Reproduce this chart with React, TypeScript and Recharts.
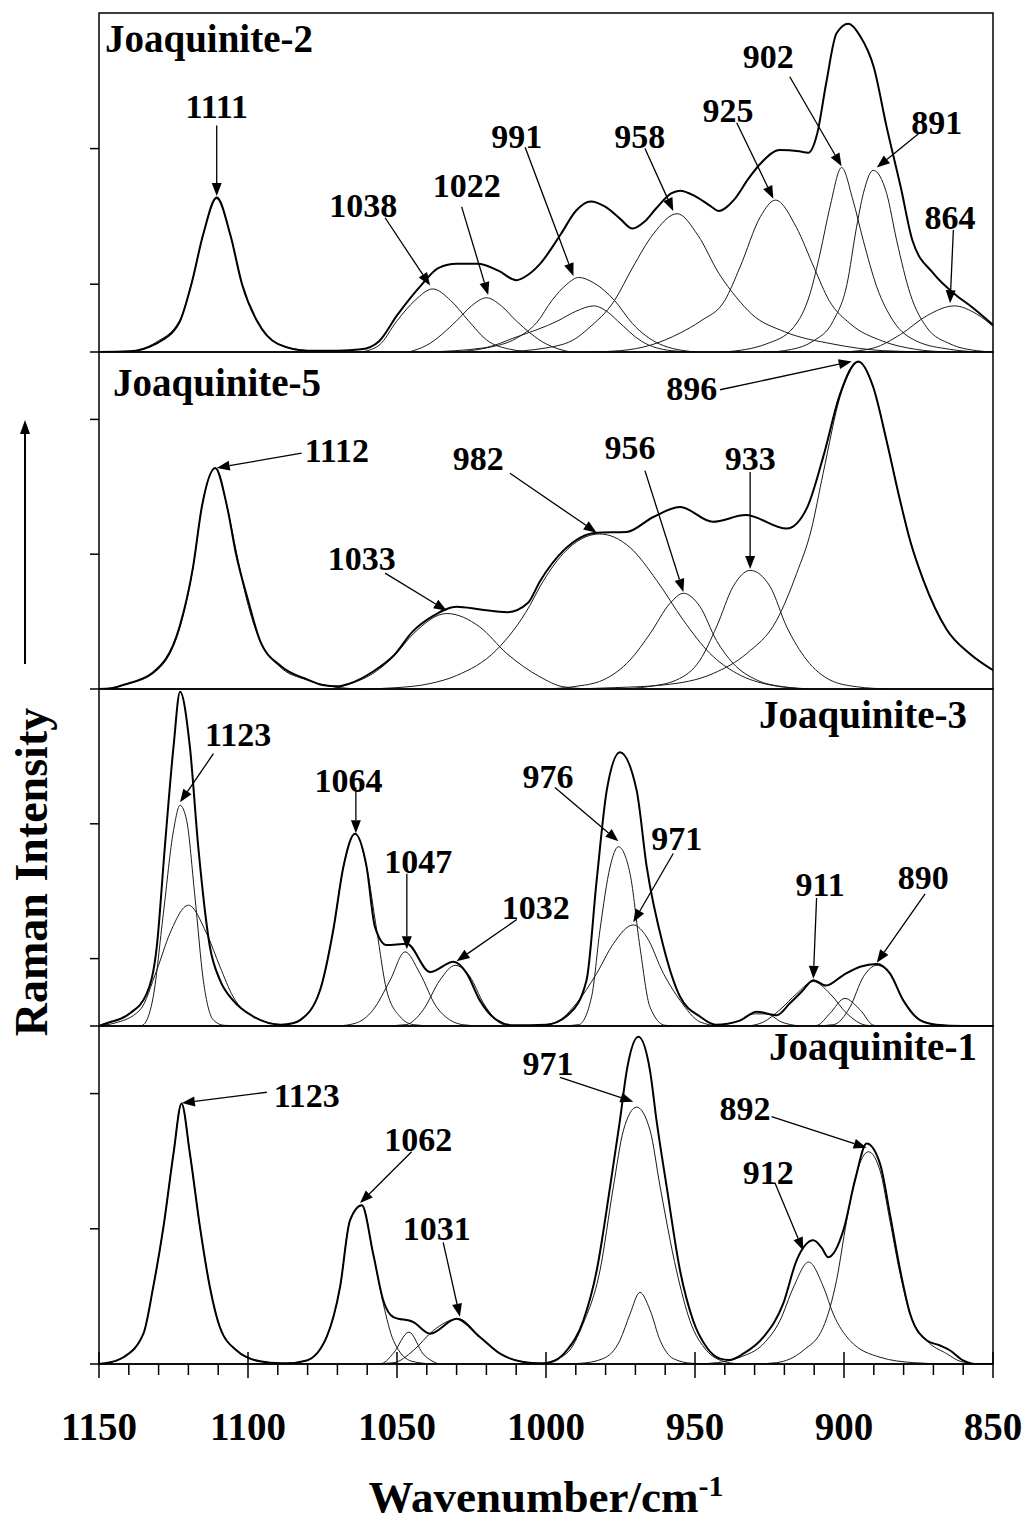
import React from 'react';
import { LineChart, Line, XAxis, YAxis, ReferenceArea, ReferenceLine, ReferenceDot } from 'recharts';

type P = [number, number];
// [text, labelW, labelV, arrowStartW, arrowStartV, tipW, tipV]
type Note = [string, number, number, number, number, number, number];

const FONT = "'Liberation Serif', 'Times New Roman', serif";

// ---- Joaquinite-2 (top panel) : [wavenumber, intensity]
const j2Env: P[] = [[1150,0],[1140,0.5],[1131,6],[1123,22],[1119,50],[1115,87],[1110.5,114],[1106,87],[1102,50],[1097,23],[1090,6],[1080,1],[1070,1],[1062,2],[1056,8],[1050,27],[1042,49],[1036,62],[1030,65],[1023,65],[1016,60],[1010,53],[1006,57],[1002,65],[995,87],[990,104],[985,111],[980,107],[975,98],[971,91],[967,96],[963,106],[958,117],[955,119],[950,115],[945,108],[942,104],[937,112],[932,128],[928,139],[921.5,149],[915,148],[912,147],[909,161],[906,198],[902.5,235],[898.5,242],[894.6,233],[890,210],[885.7,166],[881,122],[877,82],[870,58],[863,43],[857,33],[850,20]];
const j2c1111: P[] = [[1139,0],[1131,7],[1123,23],[1119,50],[1115,87],[1110.5,113],[1106,87],[1102,50],[1097,23],[1090,6],[1080,1],[1072,0]];
const j2c1038: P[] = [[1062,0],[1056,5],[1050,23],[1044,38],[1038,46.5],[1032,38],[1026,23],[1020,9],[1012,2],[1004,0]];
const j2c1022: P[] = [[1046,0],[1040,5],[1030,23],[1025,34],[1020,40],[1015,34],[1010,23],[1000,6],[992,0]];
const j2c991: P[] = [[1030,0],[1020,3],[1010,10],[1003,22],[998,38],[993,50],[989,55],[984,51],[977,38],[971,21],[962,6],[950,0]];
const j2c982: P[] = [[1040,0],[1021,3],[1010,11],[996,23],[990,30],[984,34],[979,29],[976,23],[968,8],[958,1],[950,0]];
const j2c958: P[] = [[1015,0],[1000,3],[990,10],[986,17],[977,38],[971,62],[964,87],[956,102],[949,86],[942,58],[936,40],[931,28],[920,15],[904,6],[887,1],[870,0]];
const j2c925: P[] = [[985,0],[975,1],[965,5],[955,14],[948,23],[940,38],[935,62],[928,100],[923,112],[916,92],[910,62],[905,38],[898,21],[887,8],[876,2],[865,0]];
const j2c902: P[] = [[940,0],[926,6],[917,18],[911.4,43],[908,73],[904.7,107],[900.8,136],[897,112],[893.5,82],[889,48],[883.5,23],[875.6,8],[864.5,2],[855,0]];
const j2c891: P[] = [[925,0],[920,1],[910.4,8],[903.6,23],[899,50],[895.8,92],[893.5,117],[890.2,134],[885.7,117],[882.3,82],[877.8,43],[872.2,18],[864.4,6],[855.5,1],[850,0]];
const j2c864: P[] = [[900,0],[890,3],[881,13],[872,27],[863,34],[855.5,28],[850,19]];
const j2Notes: Note[] = [
  ['1111', 1110.5, 181, 1110.5, 167, 1110.5, 115],
  ['1038', 1061.3, 108, 1054, 99, 1038.9, 49],
  ['1022', 1026.6, 123, 1028.3, 107, 1019.4, 42],
  ['991', 1009.8, 159, 1007, 151, 990.8, 56],
  ['958', 968.5, 159, 966.8, 150, 957.3, 104],
  ['925', 938.9, 178, 936, 169, 923.7, 113],
  ['902', 925.4, 218, 918.2, 203, 900.8, 137],
  ['891', 868.9, 169, 875, 161, 889, 136],
  ['864', 864.4, 99, 863.3, 90, 864.4, 36],
];

// ---- Joaquinite-5
const j5Env: P[] = [[1150,0],[1146,0.5],[1142,3],[1132,12],[1123,46],[1118.4,91],[1115.5,135],[1111,164],[1107,135],[1104,100],[1100,66],[1096,36],[1089,17],[1080,7],[1075,3],[1070,2],[1066,4],[1058,13],[1051,25],[1045,42],[1038,54],[1030,61],[1022,59],[1013,57],[1006,64],[1002,80],[994,103],[983,116],[973,116.5],[964,127.6],[955,135],[944,124],[933,129],[919.2,119],[912.5,134],[907,172],[901.3,219],[895.2,243],[890.2,224],[885.7,184],[881.2,140],[877.8,110],[873.4,81],[865.5,44],[857.7,26],[850,14]];
const j5c1112: P[] = [[1150,0],[1146,0.5],[1141.8,3],[1131.8,11.6],[1122.8,46],[1118.4,90.6],[1115.5,135],[1111,163.5],[1107,135],[1103.8,100.5],[1100.4,66],[1096,36],[1089.3,16.5],[1080.3,6.7],[1071.4,1.7],[1062,0]];
const j5c1033: P[] = [[1072,0],[1066.9,3],[1058,11.6],[1051.2,24],[1044.5,41],[1033.3,56],[1022.2,46],[1013.2,26.4],[1002,9],[994.3,1.7],[985,0]];
const j5c982: P[] = [[1062,0],[1050,1],[1039,4],[1030,10],[1016.6,29],[1005.4,62],[1002,76],[994.2,100.5],[982,115],[971.8,105],[962.9,80.7],[953.9,51],[945,26.4],[936,11.6],[924.8,3],[912,0]];
const j5c956: P[] = [[1000,0],[990.8,1.7],[980.8,6.7],[971.8,21.5],[965.1,41],[958.4,63.5],[953.9,71],[948.3,61],[942.8,36],[937.2,19],[929.3,6.7],[920.4,1.7],[910,0]];
const j5c933: P[] = [[975,0],[966,1.7],[956.2,6.7],[948.3,21.5],[942.8,46],[937.2,76],[931.5,88],[924.8,76],[919.2,46],[912.5,21.5],[904.7,6.7],[895.8,1.7],[885,0]];
const j5c896: P[] = [[990,0],[977,1],[960.6,3],[943.8,11.6],[932.6,26.4],[922.6,51],[915.9,85.7],[911,118],[907,160],[901.3,217],[895.2,242.5],[890.2,224],[885.7,184.4],[881.2,140],[877.8,110],[873.4,80.7],[865.5,43.7],[857.7,26.4],[850,14]];
const j5Notes: Note[] = [
  ['1112', 1070.2, 177, 1082, 175, 1110.5, 164],
  ['982', 1022.7, 171, 1012.1, 160, 983, 116],
  ['1033', 1061.8, 97, 1054, 86, 1033.3, 58],
  ['956', 971.8, 179, 966.8, 162, 953.9, 72],
  ['933', 931.5, 171, 931.5, 161, 931.5, 89],
  ['896', 951.1, 223, 941.6, 222, 897.4, 243],
];

// ---- Joaquinite-3
const j3Env: P[] = [[1150,0],[1147.4,2],[1139.6,9.4],[1134,24],[1130.6,59],[1127.9,133],[1125,207],[1122.8,248],[1119.5,207],[1116.7,133],[1112.8,59],[1109.4,34],[1105,19],[1098.2,7],[1089,1],[1085,2],[1082.5,4.4],[1075.8,26.7],[1071.4,71],[1068,118],[1064.1,142.7],[1060.2,118],[1057.4,73.5],[1053.5,60],[1046.7,61],[1038.9,40],[1031,47.6],[1026.6,39],[1022.2,19],[1016.5,4.4],[1011,0.5],[1000,1],[992,9.4],[986.4,34],[983,108],[979.6,175],[975.2,203],[969.6,175],[966.2,118],[960.6,59],[955,21.7],[948.3,7],[943,1],[935,4],[929.3,10.6],[922.6,8],[918.1,17],[914,26],[910.3,34],[906,30],[900.2,37.8],[894.6,44],[889,46],[884.6,39],[880.1,19],[874.5,4.4],[869,1],[860,0],[850,0]];
const j3c1123n: P[] = [[1136,0],[1134.6,2],[1131.8,21.7],[1128.4,83.5],[1125,145],[1122.8,163.7],[1120.6,152.6],[1117.8,95.8],[1115,34],[1111.6,4.4],[1108,0.5],[1100,0]];
const j3c1123b: P[] = [[1150,0.5],[1145,2],[1136.2,12],[1130.6,41.5],[1126.2,68.7],[1120,89.6],[1113.9,68.7],[1109.4,44],[1105,21.7],[1098.2,7],[1089,1],[1080,0]];
const j3c1064: P[] = [[1095,0],[1089,0.5],[1082.5,4.4],[1075.8,26.7],[1071.4,71],[1068,118],[1064.1,142.7],[1060.2,118],[1056.8,71],[1053.5,26.7],[1049,7],[1044.5,1],[1038,0]];
const j3c1047: P[] = [[1070,0],[1064,2],[1058,12],[1052.3,34],[1047.3,55],[1042.3,39],[1036.7,14],[1028,1],[1022,0]];
const j3c1032: P[] = [[1055,0],[1047,1],[1041.2,12],[1035.6,34],[1030.5,45],[1025.5,36.5],[1021,17],[1014,1],[1008,0]];
const j3c976: P[] = [[995,0],[989,1],[984.7,21.7],[981.9,71],[978.5,118],[975.7,133],[971.8,113],[968.5,59],[965.1,14],[960,0.5],[955,0]];
const j3c971: P[] = [[1002,0],[996.4,3],[989.7,17],[983,39],[977.4,61],[970.7,75],[966.2,66],[960.6,39],[955,19],[948.3,3],[942,0]];
const j3c928: P[] = [[945,0],[936,3],[930,9],[926,9],[921,3],[915,0]];
const j3c911: P[] = [[932,0],[927,3],[921.5,12],[915.9,24],[910.3,33],[904.7,24],[899.1,9.4],[892.4,0.5],[888,0]];
const j3c899: P[] = [[912,0],[909,0.5],[904.7,9.4],[899.7,20.5],[894.6,12],[890,0.5],[886,0]];
const j3c890: P[] = [[910,0],[903.5,1],[898,14],[893.5,36.5],[889,45],[884.6,39],[880.1,19],[874.5,4.4],[869,1],[862,0]];
const j3Notes: Note[] = [
  ['1123', 1103.3, 216, 1111.6, 202, 1122.8, 166],
  ['1064', 1066.3, 182, 1063.8, 177, 1063.8, 143],
  ['1047', 1042.9, 122, 1046.7, 113, 1046.7, 57],
  ['1032', 1003.4, 88, 1009.8, 79, 1030, 48],
  ['976', 999.3, 185, 997, 177, 975.7, 137],
  ['971', 956.1, 139, 957.3, 128, 970.7, 77],
  ['911', 908, 105, 909.2, 95, 910.3, 35],
  ['890', 873.4, 110, 872.8, 98, 889, 47],
];

// ---- Joaquinite-1 (bottom panel)
const j1Env: P[] = [[1150,0],[1148,0.5],[1141.8,5],[1135.1,22.4],[1131.8,57],[1128.4,101],[1125,155.7],[1122.3,192.7],[1119.5,155.7],[1116.1,101],[1112.8,57],[1109.4,27],[1103.8,10],[1096,2],[1089,0.5],[1087,0.5],[1080.3,2.6],[1073.6,20],[1069.1,57],[1065.8,106],[1061.8,117.4],[1058,81.6],[1054.6,47],[1051.2,34.7],[1044.5,31],[1038.9,22.4],[1030,33.5],[1022.2,20],[1015.4,7.6],[1007.6,1.5],[1002,0.5],[999,1],[993,10],[987.5,32],[983,69],[978.5,131],[975.2,180],[972.9,217],[969,242],[965.1,217],[962.9,180],[959.5,131],[955,69],[950.6,32],[946.1,12.4],[941.6,4],[938.5,3],[933.8,7.6],[927,20],[920.4,44.6],[915.9,76.7],[910.3,91.5],[907.5,86],[905.3,79],[900.2,99],[896.3,136],[892.4,163],[887.9,148],[884.6,111],[881.2,70],[877.8,37],[872.2,17.4],[867.8,13.7],[864.4,10],[860,2.6],[856,0],[850,0]];
const j1c1123: P[] = [[1150,0],[1148,0.5],[1141.8,5],[1135.1,22.4],[1131.8,57],[1128.4,101],[1125,155.7],[1122.3,192.7],[1119.5,155.7],[1116.1,101],[1112.8,57],[1109.4,27],[1103.8,10],[1096,2],[1089,0.5],[1080,0]];
const j1c1062: P[] = [[1095,0],[1087,0.5],[1080.3,2.6],[1073.6,20],[1069.1,57],[1065.8,106],[1061.8,117.4],[1058,81.6],[1054.6,44.6],[1051.2,17.4],[1045,2],[1038,0]];
const j1c1047: P[] = [[1058,0],[1055,0.5],[1051.2,8],[1046,23.6],[1041.2,7.4],[1036,0]];
const j1c1031: P[] = [[1058,0],[1051,1],[1044.5,10],[1037.8,24.8],[1029.4,33.5],[1022.2,20],[1015.4,7.6],[1007.6,1.5],[1000,0]];
const j1c971: P[] = [[1002,0],[993,8],[987.5,30],[981.9,69],[977.4,131],[974,173],[969.6,190],[965.1,173],[961.7,131],[956.2,69],[951.7,32],[946.1,10],[940.5,2],[935,0]];
const j1c969: P[] = [[995,0],[988.5,0.5],[980.8,4],[975.2,17.4],[971.8,37],[968.5,53],[965.1,40],[961.7,17.4],[957.3,4],[951,0.5],[945,0]];
const j1c912: P[] = [[950,0],[942.5,1],[934.9,5],[927,15],[921.5,32],[916.9,57],[911.9,75.4],[906.9,57],[903.6,37],[898,17.4],[887.9,5],[876.7,1],[865,0]];
const j1c892: P[] = [[930,0],[922.6,1],[913.7,10],[907,27],[902.5,62],[899.1,106],[895.8,141],[891.8,157],[887.9,143],[884.6,106],[881.2,67],[877.8,37],[872.2,17.4],[865.5,7.6],[861,2],[855,0]];
const j1Notes: Note[] = [
  ['1123', 1080.3, 199, 1093.7, 201, 1122.2, 193],
  ['1062', 1042.9, 166, 1045.1, 157, 1062.4, 119],
  ['1031', 1036.7, 100, 1034.5, 90, 1028.9, 35],
  ['971', 999.3, 222, 995.3, 212, 970.7, 194],
  ['892', 933.2, 189, 924.3, 183, 892.4, 160],
  ['912', 925.4, 142, 923.2, 134, 913.7, 84],
];

const xTicks = [1150,1140,1130,1120,1110,1100,1090,1080,1070,1060,1050,1040,1030,1020,1010,1000,990,980,970,960,950,940,930,920,910,900,890,880,870,860,850];
const xMajor = [1150,1100,1050,1000,950,900,850];

const panels = [
  { name: 'Joaquinite-2', nameAt: [1148, 221] as P, anchor: 'start', env: j2Env, comps: [j2c1111, j2c1038, j2c1022, j2c991, j2c982, j2c958, j2c925, j2c902, j2c891, j2c864], notes: j2Notes, yTicks: [0, 50, 150], top: 13, h: 339 },
  { name: 'Joaquinite-5', nameAt: [1145.3, 217] as P, anchor: 'start', env: j5Env, comps: [j5c1112, j5c1033, j5c982, j5c956, j5c933, j5c896], notes: j5Notes, yTicks: [0, 100, 200], top: 352, h: 337 },
  { name: 'Joaquinite-3', nameAt: [858.7, 221] as P, anchor: 'end', env: j3Env, comps: [j3c1123n, j3c1123b, j3c1064, j3c1047, j3c1032, j3c976, j3c971, j3c928, j3c911, j3c899, j3c890], notes: j3Notes, yTicks: [0, 50, 150], top: 689, h: 337 },
  { name: 'Joaquinite-1', nameAt: [855.4, 225] as P, anchor: 'end', env: j1Env, comps: [j1c1123, j1c1062, j1c1047, j1c1031, j1c971, j1c969, j1c912, j1c892], notes: j1Notes, yTicks: [0, 100, 200], top: 1026, h: 338 },
];

const pts = (a: P[]) => a.map(([w, v]) => ({ w, v }));

const Arrow = (p: any) => {
  const { x1, y1, x2, y2 } = p;
  const dx = x2 - x1, dy = y2 - y1;
  const L = Math.hypot(dx, dy) || 1;
  const ux = dx / L, uy = dy / L;
  const hl = 13, hw = 5;
  const bx = x2 - ux * hl, by = y2 - uy * hl;
  return (
    <g>
      <line x1={x1} y1={y1} x2={bx} y2={by} stroke="#000" strokeWidth={1.3} />
      <polygon points={`${x2},${y2} ${bx - uy * hw},${by + ux * hw} ${bx + uy * hw},${by - ux * hw}`} fill="#000" />
    </g>
  );
};

const XTick = (p: any) => {
  const v = p.payload.value;
  const major = xMajor.includes(v);
  return (
    <g>
      <line x1={p.x} x2={p.x} y1={major ? p.y - 12 : p.y} y2={p.y + (major ? 14 : 11)} stroke="#000" strokeWidth={1.5} />
      {major && (
        <text x={p.x} y={p.y + 76} textAnchor="middle" fontFamily={FONT} fontWeight="bold" fontSize={39} fill="#000">{v}</text>
      )}
    </g>
  );
};

function Panel({ cfg, last }: { cfg: typeof panels[number]; last: boolean }) {
  const height = cfg.h + 2 + (last ? 100 : 2);
  return (
    <div style={{ position: 'absolute', left: 0, top: cfg.top - 2 }}>
      <LineChart width={1025} height={height} margin={{ top: 2, right: 32, bottom: last ? 0 : 2, left: 89 }}>
        <XAxis type="number" dataKey="w" domain={[850, 1150]} reversed allowDataOverflow hide={!last}
          height={last ? 100 : 0} ticks={xTicks} interval={0} tickLine={false} tickSize={0} tickMargin={0}
          tick={XTick} axisLine={{ stroke: '#000', strokeWidth: 1.5 }} />
        <YAxis type="number" domain={[0, 250]} ticks={cfg.yTicks} width={10} tickSize={9} allowDataOverflow
          tickFormatter={() => ''} axisLine={false} tickLine={{ stroke: '#000', strokeWidth: 1.5 }} />
        <ReferenceArea x1={1150} x2={850} y1={0} y2={250} fill="none" fillOpacity={0} stroke="#000" strokeWidth={1.5} />
        {cfg.comps.map((c, i) => (
          <Line key={i} data={pts(c)} dataKey="v" type="monotone" stroke="#1a1a1a" strokeWidth={1}
            dot={false} activeDot={false} isAnimationActive={false} />
        ))}
        <Line data={pts(cfg.env)} dataKey="v" type="monotone" stroke="#000" strokeWidth={2}
          dot={false} activeDot={false} isAnimationActive={false} />
        {cfg.notes.map((n) => (
          <ReferenceLine key={'a' + n[0]} segment={[{ x: n[3], y: n[4] }, { x: n[5], y: n[6] }]} shape={Arrow} />
        ))}
        {cfg.notes.map((n) => (
          <ReferenceDot key={'t' + n[0]} x={n[1]} y={n[2]} r={0}
            shape={(p: any) => (
              <text x={p.cx} y={p.cy} dy="0.34em" textAnchor="middle" fontFamily={FONT} fontWeight="bold" fontSize={34} fill="#000">{n[0]}</text>
            )} />
        ))}
        <ReferenceDot x={cfg.nameAt[0]} y={cfg.nameAt[1]} r={0}
          shape={(p: any) => (
            <text x={p.cx} y={p.cy} textAnchor={cfg.anchor as any} fontFamily={FONT} fontWeight="bold" fontSize={39} fill="#000">{cfg.name}</text>
          )} />
      </LineChart>
    </div>
  );
}

export default function App() {
  return (
    <div style={{ position: 'absolute', left: 0, top: 0, width: 1025, height: 1528, overflow: 'hidden', background: '#fff' }}>
      {panels.map((p, i) => (
        <Panel key={p.name} cfg={p} last={i === panels.length - 1} />
      ))}
      <div style={{ position: 'absolute', left: 31.5 - 200, top: 872 - 25, width: 400, height: 50, lineHeight: '50px',
        textAlign: 'center', transform: 'rotate(-90deg)', fontFamily: FONT, fontWeight: 'bold', fontSize: 46, whiteSpace: 'nowrap' }}>
        Raman Intensity
      </div>
      <svg style={{ position: 'absolute', left: 15, top: 415 }} width={20} height={255}>
        <line x1={10} y1={14} x2={10} y2={249} stroke="#000" strokeWidth={2} />
        <polygon points="10,5 5,19 15,19" fill="#000" />
      </svg>
      <div style={{ position: 'absolute', left: 0, top: 1474, width: 1092, height: 46, lineHeight: '46px', textAlign: 'center',
        fontFamily: FONT, fontWeight: 'bold', fontSize: 45, whiteSpace: 'nowrap' }}>
        Wavenumber/cm<span style={{ fontSize: 30, position: 'relative', top: -16 }}>-1</span>
      </div>
    </div>
  );
}
